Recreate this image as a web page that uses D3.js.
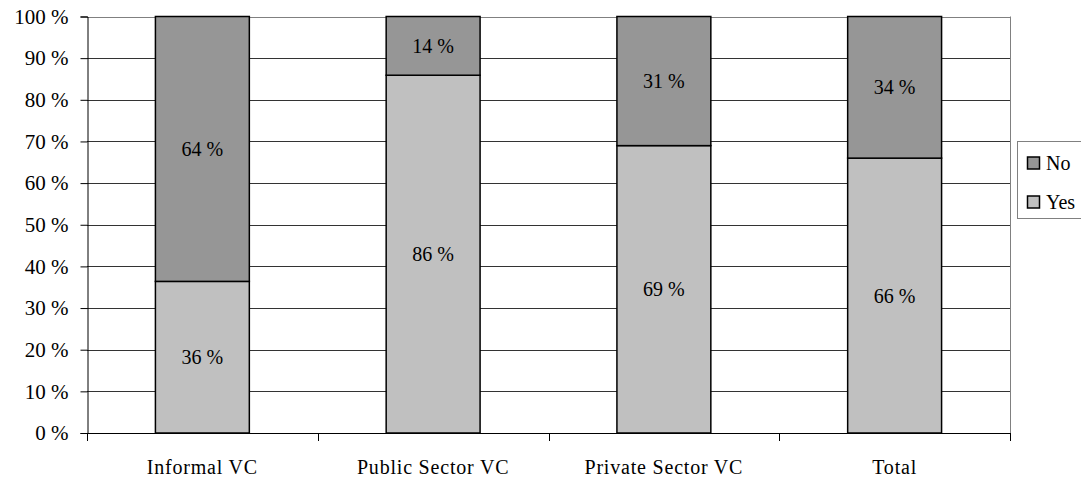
<!DOCTYPE html>
<html>
<head>
<meta charset="utf-8">
<script src="https://cdn.jsdelivr.net/npm/d3@7"></script>
<style>
body { margin: 0; background: #fff; }
</style>
</head>
<body>
<script>
var categories = ["Informal VC", "Public Sector VC", "Private Sector VC", "Total"];
var yesValues = [36.4, 85.9, 69, 66];
var noValues = [63.6, 14.1, 31, 34];
var yTicks = [0, 10, 20, 30, 40, 50, 60, 70, 80, 90, 100];

var w = 1081, h = 483;
var plotLeft = 87, plotRight = 1010, plotTop = 16.5, plotBottom = 433;
var serif = "'Liberation Serif', 'Times New Roman', Times, 'DejaVu Serif', serif";

var svg = d3.select("body").append("svg")
  .attr("width", w)
  .attr("height", h)
  .style("font-family", serif);

var x = d3.scaleBand()
  .domain(categories)
  .range([plotLeft, plotRight])
  .paddingInner(0.593)
  .paddingOuter(0.2965);

var y = d3.scaleLinear()
  .domain([0, 100])
  .range([plotBottom, plotTop]);

// gridlines
svg.selectAll("line.grid")
  .data(yTicks.slice(1))
  .enter()
  .append("line")
  .attr("class", "grid")
  .attr("x1", plotLeft)
  .attr("x2", plotRight)
  .attr("y1", function(d) { return Math.round(y(d)) + 0.5; })
  .attr("y2", function(d) { return Math.round(y(d)) + 0.5; })
  .attr("stroke", function(d) { return d == 100 ? "#808080" : "#333"; })
  .attr("stroke-width", 1);

// right border of plot area
svg.append("line")
  .attr("x1", plotRight + 0.5).attr("x2", plotRight + 0.5)
  .attr("y1", plotTop).attr("y2", plotBottom)
  .attr("stroke", "#808080");

var stacks = categories.map(function(c, i) {
  return [
    { cat: c, y0: 0, y1: yesValues[i], v: yesValues[i], fill: "#c0c0c0" },
    { cat: c, y0: yesValues[i], y1: 100, v: noValues[i], fill: "#969696" }
  ];
});
var segs = [].concat.apply([], stacks);

svg.selectAll("rect.seg")
  .data(segs)
  .enter()
  .append("rect")
  .attr("class", "seg")
  .attr("x", function(d) { return x(d.cat); })
  .attr("width", x.bandwidth())
  .attr("y", function(d) { return y(d.y1); })
  .attr("height", function(d) { return y(d.y0) - y(d.y1); })
  .attr("fill", function(d) { return d.fill; })
  .attr("stroke", "#000")
  .attr("stroke-width", 1.5);

svg.selectAll("text.val")
  .data(segs)
  .enter()
  .append("text")
  .attr("class", "val")
  .attr("x", function(d) { return x(d.cat) + x.bandwidth() / 2; })
  .attr("y", function(d) { return y((d.y0 + d.y1) / 2); })
  .attr("dy", "0.35em")
  .attr("text-anchor", "middle")
  .style("font-family", serif)
  .style("font-size", "20px")
  .text(function(d) { return Math.round(d.v) + " %"; });

// y axis
var yAxis = d3.axisLeft(y)
  .tickValues(yTicks)
  .tickSize(7)
  .tickPadding(12)
  .tickFormat(function(d) { return d + " %"; });

var gy = svg.append("g")
  .attr("transform", "translate(" + (plotLeft + 0.5) + ",0)")
  .call(yAxis)
  .attr("font-family", null);
gy.select(".domain").attr("stroke", "#000");
gy.selectAll(".tick line").attr("stroke", "#000");
gy.selectAll("text")
  .style("font-family", serif)
  .style("font-size", "21px")
  .attr("fill", "#000");

// x axis
svg.append("line")
  .attr("x1", plotLeft).attr("x2", plotRight + 1)
  .attr("y1", plotBottom + 0.5).attr("y2", plotBottom + 0.5)
  .attr("stroke", "#000");

var bounds = [0, 1, 2, 3, 4].map(function(i) { return plotLeft + i * (plotRight - plotLeft) / 4; });
svg.selectAll("line.xtick")
  .data(bounds)
  .enter()
  .append("line")
  .attr("class", "xtick")
  .attr("x1", function(d) { return Math.round(d) + 0.5; })
  .attr("x2", function(d) { return Math.round(d) + 0.5; })
  .attr("y1", plotBottom)
  .attr("y2", plotBottom + 8)
  .attr("stroke", "#000");

svg.selectAll("text.cat")
  .data(categories)
  .enter()
  .append("text")
  .attr("class", "cat")
  .attr("x", function(d) { return x(d) + x.bandwidth() / 2; })
  .attr("y", 467)
  .attr("dy", "0.35em")
  .attr("text-anchor", "middle")
  .style("font-family", serif)
  .style("font-size", "20px")
  .style("letter-spacing", "0.8px")
  .text(function(d) { return d; });

// legend
var legend = svg.append("g");
legend.append("rect")
  .attr("x", 1017.5).attr("y", 141.5)
  .attr("width", 80).attr("height", 77)
  .attr("fill", "#fff")
  .attr("stroke", "#808080");

var legendItems = [
  { label: "No", fill: "#969696", cy: 163 },
  { label: "Yes", fill: "#c0c0c0", cy: 202 }
];
legend.selectAll("rect.sw")
  .data(legendItems)
  .enter()
  .append("rect")
  .attr("class", "sw")
  .attr("x", 1027.5)
  .attr("y", function(d) { return d.cy - 6; })
  .attr("width", 12).attr("height", 12)
  .attr("fill", function(d) { return d.fill; })
  .attr("stroke", "#000")
  .attr("stroke-width", 1.5);
legend.selectAll("text")
  .data(legendItems)
  .enter()
  .append("text")
  .attr("x", 1046)
  .attr("y", function(d) { return d.cy; })
  .attr("dy", "0.35em")
  .style("font-family", serif)
  .style("font-size", "20px")
  .text(function(d) { return d.label; });
</script>
</body>
</html>
